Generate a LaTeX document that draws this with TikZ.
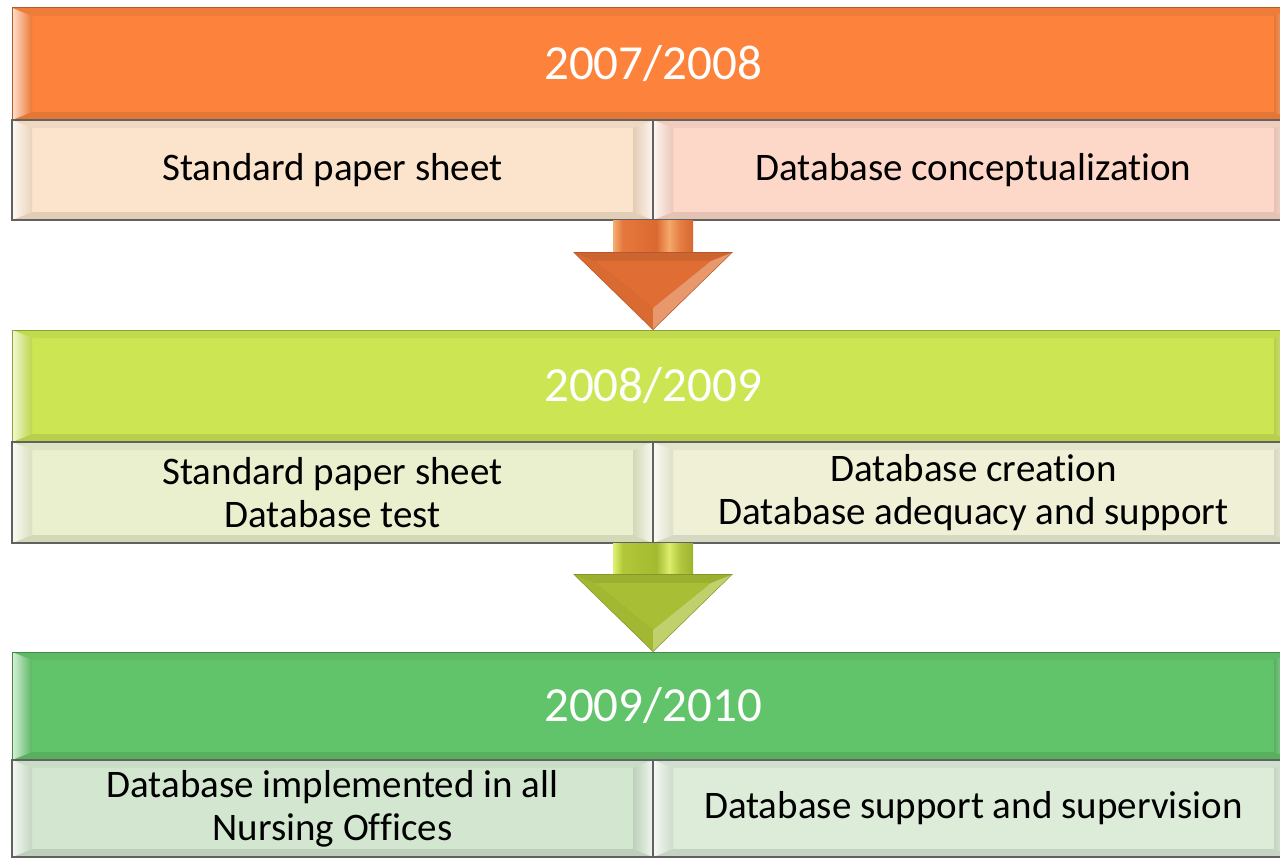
\documentclass[tikz,border=0pt]{standalone}
\usepackage{fontspec}
\setmainfont{Carlito}[Ligatures={NoCommon,NoContextual}]
\usetikzlibrary{calc}
\definecolor{hA}{RGB}{253,131,60}
\definecolor{sAl}{RGB}{251,228,203}
\definecolor{sAr}{RGB}{253,215,200}
\definecolor{aA}{RGB}{224,110,52}
\definecolor{hB}{RGB}{203,230,82}
\definecolor{sBl}{RGB}{234,240,205}
\definecolor{sBr}{RGB}{239,240,214}
\definecolor{aB}{RGB}{168,190,52}
\definecolor{hC}{RGB}{98,196,106}
\definecolor{sCl}{RGB}{211,231,208}
\definecolor{sCr}{RGB}{220,236,217}
\pgfdeclarehorizontalshading{shA}{100bp}{rgb(0bp)=(0.96,0.68,0.45); rgb(25bp)=(0.96,0.68,0.45); rgb(31bp)=(0.90,0.47,0.24); rgb(52bp)=(0.86,0.41,0.19); rgb(60bp)=(0.96,0.66,0.42); rgb(67bp)=(0.90,0.49,0.26); rgb(75bp)=(0.84,0.41,0.19); rgb(100bp)=(0.84,0.41,0.19)}
\pgfdeclarehorizontalshading{shB}{100bp}{rgb(0bp)=(0.88,0.95,0.45); rgb(25bp)=(0.88,0.95,0.45); rgb(31bp)=(0.70,0.78,0.22); rgb(52bp)=(0.64,0.73,0.19); rgb(60bp)=(0.86,0.93,0.42); rgb(67bp)=(0.70,0.78,0.24); rgb(75bp)=(0.62,0.70,0.18); rgb(100bp)=(0.62,0.70,0.18)}
\tikzset{
  bev/.style={fill=#1, inner sep=0pt, outer sep=0pt, anchor=north west,
    path picture={
      \coordinate (q1) at (path picture bounding box.north west);
      \coordinate (q2) at (path picture bounding box.north east);
      \coordinate (q3) at (path picture bounding box.south east);
      \coordinate (q4) at (path picture bounding box.south west);
      \fill[#1!95!black] (q1) -- (q2) -- ($(q2)+(-20pt,-8pt)$) -- ($(q1)+(20pt,-8pt)$) -- cycle;
      \fill[#1!90!black] (q4) -- (q3) -- ($(q3)+(-20pt,8pt)$) -- ($(q4)+(20pt,8pt)$) -- cycle;
      \shade[left color=#1!90!black, right color=#1!35!white] (q2) -- (q3) -- ($(q3)+(-20pt,8pt)$) -- ($(q2)+(-20pt,-8pt)$) -- cycle;
      \shade[left color=#1!25!white, right color=#1!93!black] (q1) -- ($(q1)+(20pt,-8pt)$) -- ($(q4)+(20pt,8pt)$) -- (q4) -- cycle;
    }},
  headbox/.style={bev=#1, draw=#1!70!black, line width=1pt, minimum width=1282pt,
    minimum height=112pt, text=white, font=\fontsize{49}{55}\selectfont},
  subbox/.style={bev=#1, draw=black!62, line width=1.5pt, minimum width=641pt,
    minimum height=100pt, text=black, align=center, font=\fontsize{39}{43}\selectfont},
}
\newcommand\blockarr[4]{%
  \coordinate (#1-hb) at ($(#2)+(0,78pt)$);
  \shade[shading=#4] ($(#1)+(-40pt,0)$) rectangle ($(#1-hb)+(40pt,0)$);
  \fill[#3!80!black] ($(#1-hb)+(-80pt,0)$) -- ($(#1-hb)+(80pt,0)$) -- (#2) -- cycle;
  \fill[#3!92!black] ($(#1-hb)+(-78pt,-1pt)$) -- ($(#1-hb)+(78pt,-1pt)$) -- ($(#1-hb)+(58pt,-9pt)$) -- ($(#1-hb)+(-58pt,-9pt)$) -- cycle;
  \fill[#3] ($(#1-hb)+(-58pt,-9pt)$) -- ($(#1-hb)+(58pt,-9pt)$) -- ($(#2)+(0,22pt)$) -- cycle;
  \fill[#3!97!black] ($(#1-hb)+(-78pt,-1pt)$) -- ($(#1-hb)+(-58pt,-9pt)$) -- ($(#2)+(0,22pt)$) -- ($(#2)+(0,1pt)$) -- cycle;
  \fill[#3!72!white] ($(#1-hb)+(78pt,-1pt)$) -- ($(#1-hb)+(58pt,-9pt)$) -- ($(#2)+(0,22pt)$) -- ($(#2)+(0,1pt)$) -- cycle;
}
\begin{document}
\begin{tikzpicture}[x=1pt,y=-1pt]
  \useasboundingbox (0,0) rectangle (1280,859);
  \fill[white] (0,0) rectangle (1280,859);
  % row 1
  \node[headbox=hA] (h1) at (12,8) {2007/2008};
  \node[subbox=sAl] (s1l) at (12,120) {Standard paper sheet};
  \node[subbox=sAr] (s1r) at (653,120) {Database conceptualization};
  % row 2
  \node[headbox=hB] (h2) at (12,330) {2008/2009};
  \node[subbox=sBl, minimum height=101pt] (s2l) at (12,442) {Standard paper sheet\\Database test};
  \node[subbox=sBr, minimum height=101pt] (s2r) at (653,442) {Database creation\\Database adequacy and support};
  % row 3
  \node[headbox=hC, minimum height=108pt] (h3) at (12,652) {2009/2010};
  \node[subbox=sCl, minimum height=97pt] (s3l) at (12,760) {Database implemented in all\\Nursing Offices};
  \node[subbox=sCr, minimum height=97pt] (s3r) at (653,760) {Database support and supervision};
  % arrows
  \coordinate (a1t) at (s1l.south east);
  \coordinate (a1b) at (h2.north -| s1l.south east);
  \blockarr{a1t}{a1b}{aA}{shA}
  \coordinate (a2t) at (s2l.south east);
  \coordinate (a2b) at (h3.north -| s2l.south east);
  \blockarr{a2t}{a2b}{aB}{shB}
\end{tikzpicture}
\end{document}
